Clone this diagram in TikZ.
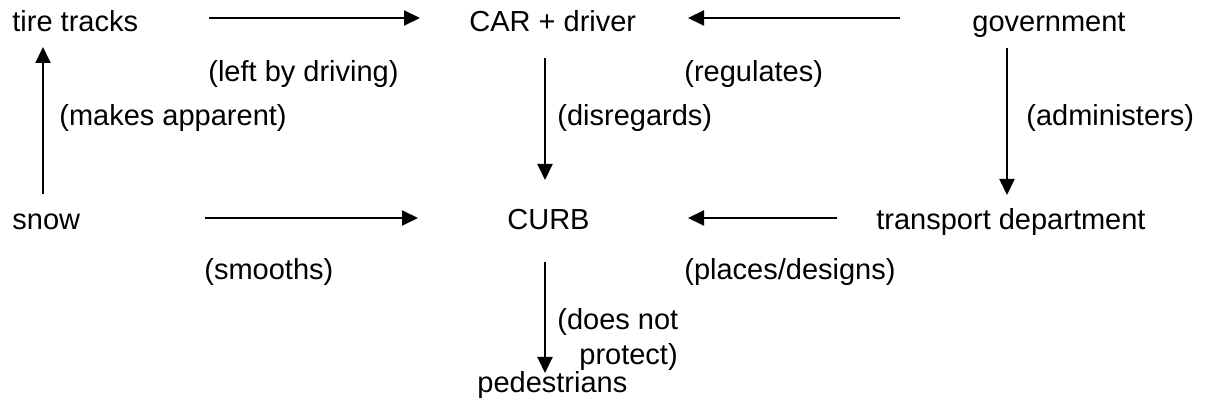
\documentclass[tikz,border=0pt]{standalone}
\usepackage{fontspec}
\setmainfont{Liberation Sans}
\usetikzlibrary{arrows.meta}
\begin{document}
\begin{tikzpicture}[x=0.5pt,y=-0.5pt,
  txt/.style={anchor=base west,inner sep=0pt,font=\fontsize{14.5pt}{17pt}\selectfont},
  arr/.style={line width=1pt,-{Triangle[length=8pt,width=7.5pt]}}]
\useasboundingbox (0,0) rectangle (1207,405);
% main nodes
\node[txt] (tire) at (12,32) {tire tracks};
\node[txt] (car) at (469,32) {CAR + driver};
\node[txt] (gov) at (972,32) {government};
\node[txt] (snow) at (12,230) {snow};
\node[txt] (curb) at (507,230) {CURB};
\node[txt] (trans) at (876,230) {transport department};
\node[txt] (ped) at (477,393) {pedestrians};
% labels
\node[txt] (lleft) at (208,82) {(left by driving)};
\node[txt] (lmakes) at (59,126) {(makes apparent)};
\node[txt] (lreg) at (684,82) {(regulates)};
\node[txt] (ldis) at (557,126) {(disregards)};
\node[txt] (ladm) at (1026,126) {(administers)};
\node[txt] (lsmooth) at (204,280) {(smooths)};
\node[txt] (lplaces) at (684,280) {(places/designs)};
\node[txt] (ldoes) at (557,330) {(does not};
\node[txt] (lprot) at (579,365) {protect)};
% connector end points
\coordinate (tireS) at (209,18);  \coordinate (tireE) at (420,18);
\coordinate (govS) at (900,18);   \coordinate (govE) at (688,18);
\coordinate (snowUpS) at (43,194); \coordinate (snowUpE) at (43,47);
\coordinate (carDS) at (545,58);  \coordinate (carDE) at (545,180);
\coordinate (govDS) at (1007,48); \coordinate (govDE) at (1007,195);
\coordinate (snowS) at (205,218); \coordinate (snowE) at (418,218);
\coordinate (transS) at (837,218); \coordinate (transE) at (688,218);
\coordinate (curbDS) at (545,262); \coordinate (curbDE) at (545,373);
% connectors
\draw[arr] (tireS) -- (tireE);
\draw[arr] (govS) -- (govE);
\draw[arr] (snowUpS) -- (snowUpE);
\draw[arr] (carDS) -- (carDE);
\draw[arr] (govDS) -- (govDE);
\draw[arr] (snowS) -- (snowE);
\draw[arr] (transS) -- (transE);
\draw[arr] (curbDS) -- (curbDE);
\end{tikzpicture}
\end{document}
